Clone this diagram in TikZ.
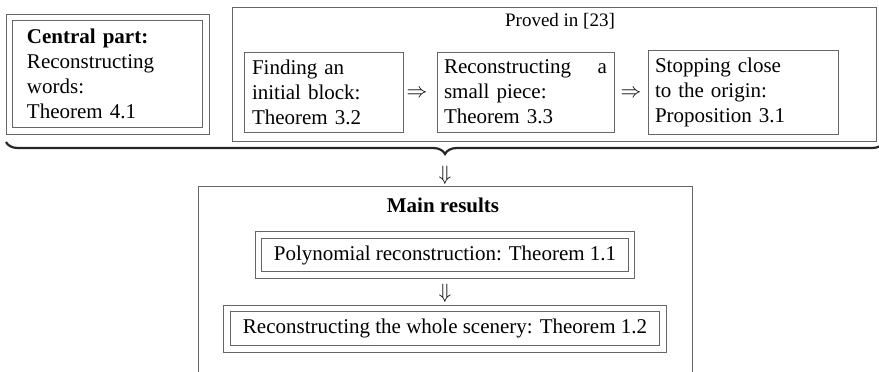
\documentclass[tikz,border=0pt]{standalone}
\usepackage{fontspec}
\setmainfont{Liberation Serif}
\usetikzlibrary{decorations.pathreplacing}

\tikzset{
  box/.style={draw=black!60, line width=0.8pt, inner sep=0pt, outer sep=0pt},
  dbox/.style={box, double=white, double distance=5.6pt},
  arrowsym/.style={font=\fontsize{20.74}{24}\selectfont, inner sep=0pt},
}

\begin{document}
\begin{tikzpicture}[x=1pt, y=-1pt, font=\fontsize{21}{25}\selectfont]

\path[use as bounding box, clip] (0,0) rectangle (879,372);

% Central part
\node[dbox, minimum width=196.5pt, minimum height=113.5pt, text width=161.5pt, align=left] (central) at (107.75,74.25) {\textbf{Central part:}\\ Reconstructing\\ words:\\ Theorem 4.1};

% Proved in [23]
\node[box, minimum width=644pt, minimum height=134pt] (proved) at (554,74) {};
\node[font=\fontsize{19}{23}\selectfont] (proved-label) at (560,21) {Proved in [23]};

\node[box, minimum width=159pt, minimum height=80pt, text width=143pt, align=left] (initial) at (323.5,92) {Finding an\\ initial block:\\ Theorem 3.2};
\node[box, minimum width=177pt, minimum height=80pt, text width=163pt, align=left] (piece) at (525.5,92) {Reconstructing\hfill a\\ small piece:\\ Theorem 3.3};
\node[box, minimum width=190pt, minimum height=84pt, text width=176pt, align=left] (origin) at (743,92) {Stopping close\\ to the origin:\\ Proposition 3.1};

\node[arrowsym] (imp-1) at (417,94) {$\Rightarrow$};
\node[arrowsym] (imp-2) at (631,94) {$\Rightarrow$};

% Brace under both parts
\coordinate (brace-left)  at (6,142);
\coordinate (brace-right) at (884,142);
\draw[black!85, line width=2.2pt, decorate, decoration={brace, mirror, amplitude=12pt}] (brace-left) -- (brace-right);

\node[arrowsym] (down-1) at (445,175) {$\Downarrow$};

% Main results
\node[box, minimum width=494pt, minimum height=204pt] (main) at (445,288) {};
\node (main-label) at (443,205) {\textbf{Main results}};

\node[dbox, minimum width=373pt, minimum height=40pt] (poly) at (445,255) {Polynomial reconstruction: Theorem 1.1};
\node[arrowsym] (down-2) at (445,293) {$\Downarrow$};
\node[dbox, minimum width=436pt, minimum height=40.5pt] (scenery) at (445,328.75) {Reconstructing the whole scenery: Theorem 1.2};

\end{tikzpicture}
\end{document}
